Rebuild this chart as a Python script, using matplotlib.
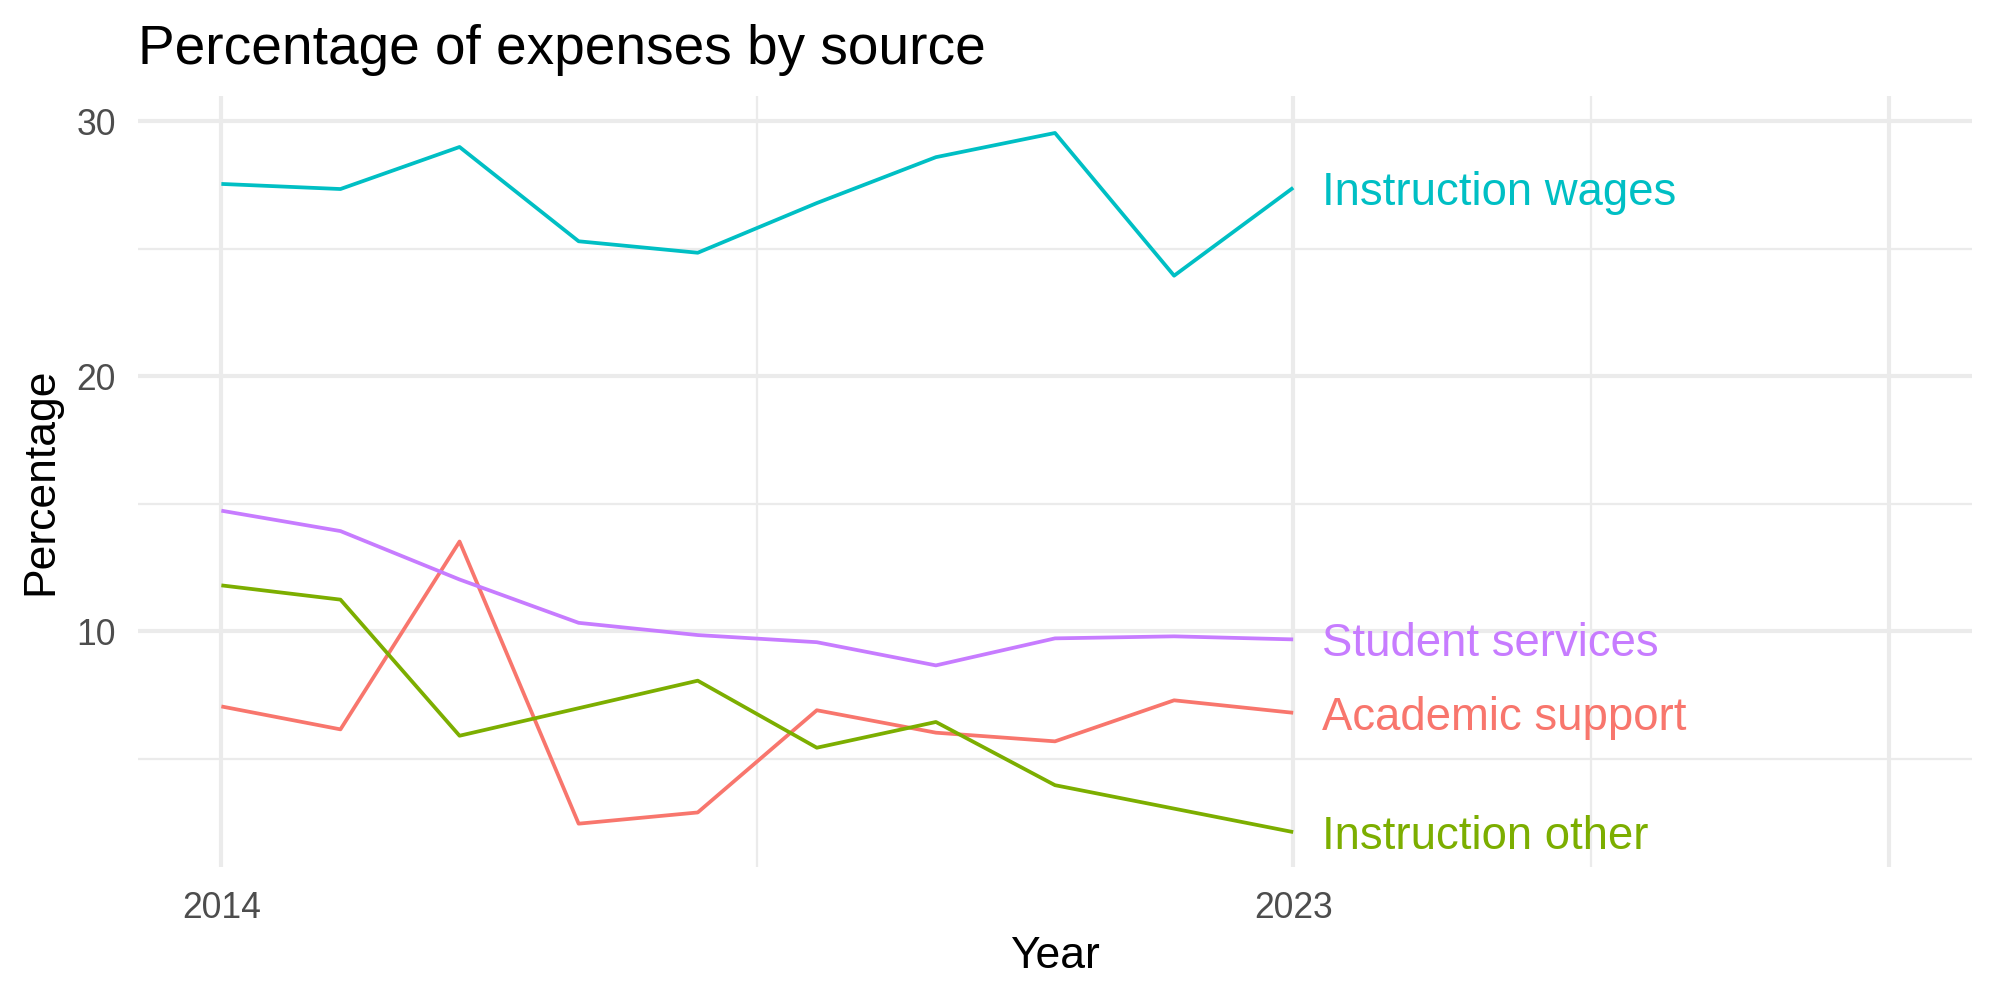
import matplotlib
matplotlib.use("Agg")
import matplotlib.pyplot as plt

plt.rcParams['font.family'] = ['Liberation Sans', 'DejaVu Sans']

# data
years = [2014, 2015, 2016, 2017, 2018, 2019, 2020, 2021, 2022, 2023]
instruction_wages = [27.55, 27.35, 29.0, 25.3, 24.85, 26.8, 28.6, 29.55, 23.95, 27.4]
student_services = [14.73, 13.93, 12.03, 10.33, 9.85, 9.57, 8.66, 9.72, 9.8, 9.68]
academic_support = [7.05, 6.15, 13.52, 2.45, 2.89, 6.9, 6.02, 5.68, 7.29, 6.8]
instruction_other = [11.8, 11.24, 5.9, 6.98, 8.06, 5.43, 6.44, 3.96, 3.04, 2.12]

series_names = ["Academic support", "Instruction other", "Instruction wages", "Student services"]
series_vals = [academic_support, instruction_other, instruction_wages, student_services]
colors = ["#F8766D", "#7CAE00", "#00BFC4", "#C77CFF"]

x_breaks = [2014, 2023, 2028]
x_labels = ["2014", "2023", ""]
x_minor = [2018.5, 2025.5]
y_breaks = [10, 20, 30]
y_minor = [5, 15, 25]

fig, ax = plt.subplots(figsize=(10, 5), dpi=200)
fig.subplots_adjust(left=0.069, right=0.986, top=0.904, bottom=0.133)

for name, vals, col in zip(series_names, series_vals, colors):
    ax.plot(years, vals, color=col, lw=1.35, solid_capstyle='butt', zorder=3)
    ax.text(years[-1] + 0.24, vals[-1], name, color=col, fontsize=16.4,
            ha='left', va='center_baseline', zorder=4)

ax.set_xlim(2013.3, 2028.7)
ax.set_ylim(0.75, 31)
ax.set_xticks(x_breaks, labels=x_labels)
ax.set_xticks(x_minor, minor=True)
ax.set_yticks(y_breaks)
ax.set_yticks(y_minor, minor=True)

ax.grid(which='major', color='#EBEBEB', lw=1.5)
ax.grid(which='minor', color='#EBEBEB', lw=0.8)
ax.set_axisbelow(True)
for s in ax.spines.values():
    s.set_visible(False)
ax.tick_params(which='both', length=0)
ax.tick_params(axis='x', labelsize=12.8, labelcolor='#4D4D4D', pad=8.6)
ax.tick_params(axis='y', labelsize=12.8, labelcolor='#4D4D4D', pad=8)

ax.set_xlabel("Year", fontsize=16, labelpad=3.8)
ax.set_ylabel("Percentage", fontsize=16, labelpad=5.2)
ax.set_title("Percentage of expenses by source", loc='left', fontsize=19.8, pad=11.5)

fig.savefig("out.png", dpi=200)
